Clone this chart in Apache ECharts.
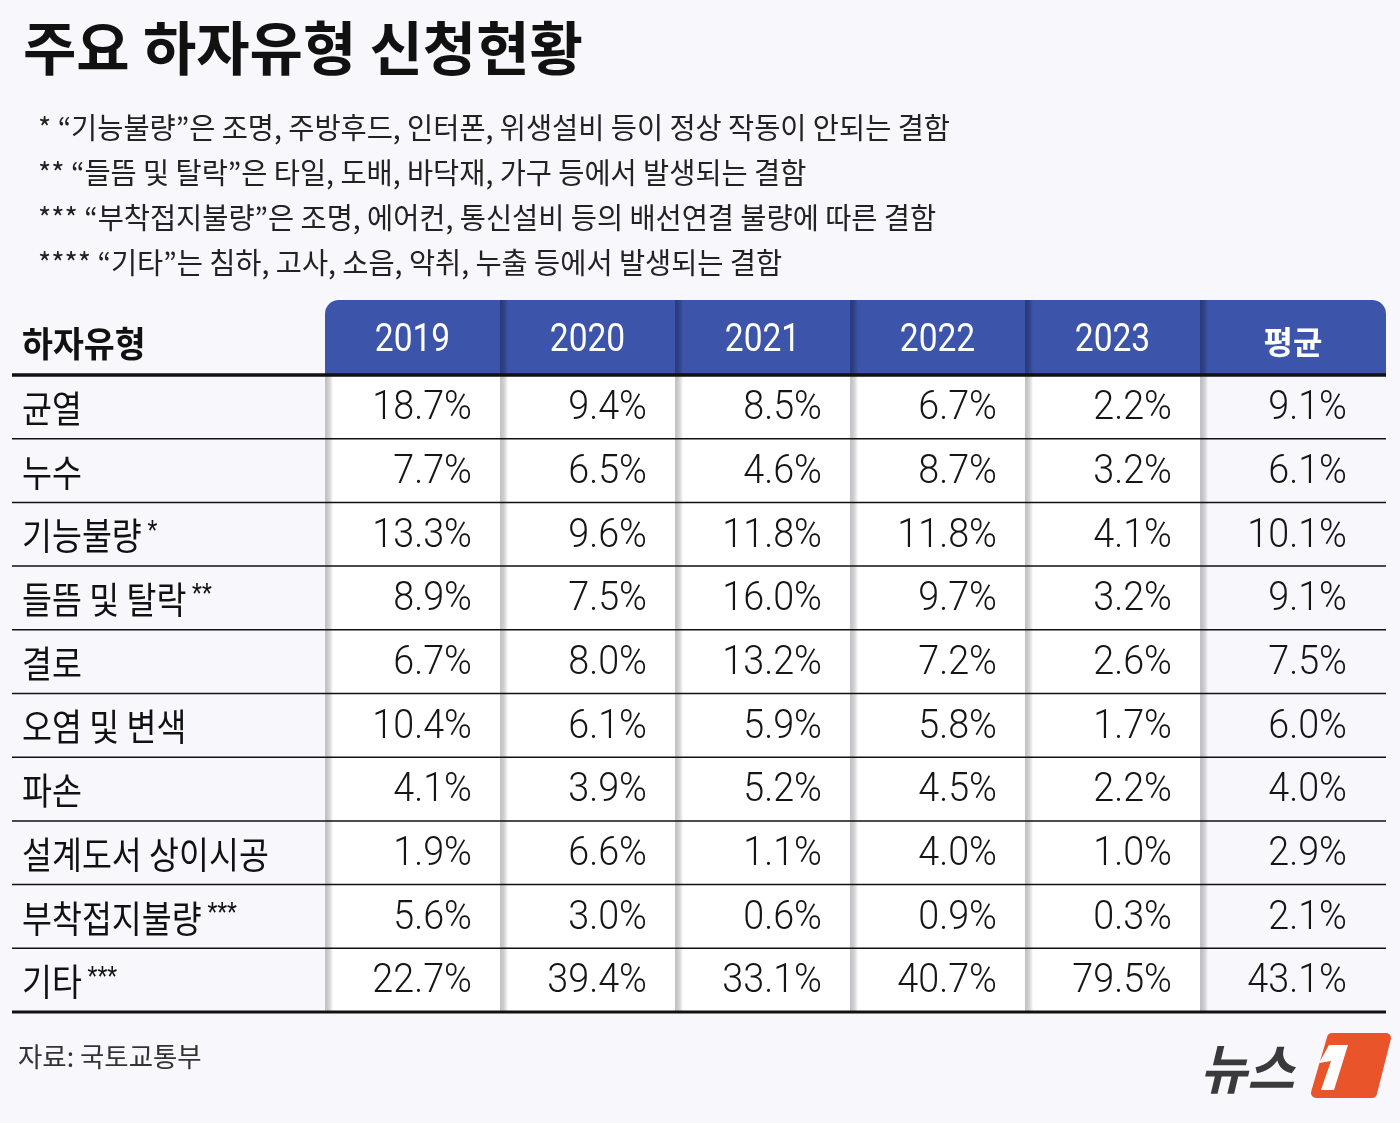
<!DOCTYPE html>
<html>
<head>
<meta charset="utf-8">
<script src="https://cdn.jsdelivr.net/npm/echarts@6/dist/echarts.min.js"></script>
<style>
html,body{margin:0;padding:0;background:#f8f8fc;}
#chart{width:1400px;height:1123px;}
</style>
</head>
<body>
<div id="chart"></div>
<script>
// ---- data ----
const title = '주요 하자유형 신청현황';
const notes = [
  '* “기능불량”은 조명, 주방후드, 인터폰, 위생설비 등이 정상 작동이 안되는 결함',
  '** “들뜸 및 탈락”은 타일, 도배, 바닥재, 가구 등에서 발생되는 결함',
  '*** “부착접지불량”은 조명, 에어컨, 통신설비 등의 배선연결 불량에 따른 결함',
  '**** “기타”는 침하, 고사, 소음, 악취, 누출 등에서 발생되는 결함'
];
const firstHeader = '하자유형';
const columns = ['2019', '2020', '2021', '2022', '2023', '평균'];
const categories = ['균열', '누수', '기능불량*', '들뜸 및 탈락**', '결로', '오염 및 변색', '파손', '설계도서 상이시공', '부착접지불량***', '기타***'];
const v2019 = [18.7, 7.7, 13.3, 8.9, 6.7, 10.4, 4.1, 1.9, 5.6, 22.7];
const v2020 = [9.4, 6.5, 9.6, 7.5, 8.0, 6.1, 3.9, 6.6, 3.0, 39.4];
const v2021 = [8.5, 4.6, 11.8, 16.0, 13.2, 5.9, 5.2, 1.1, 0.6, 33.1];
const v2022 = [6.7, 8.7, 11.8, 9.7, 7.2, 5.8, 4.5, 4.0, 0.9, 40.7];
const v2023 = [2.2, 3.2, 4.1, 3.2, 2.6, 1.7, 2.2, 1.0, 0.3, 79.5];
const vAvg  = [9.1, 6.1, 10.1, 9.1, 7.5, 6.0, 4.0, 2.9, 2.1, 43.1];
const source = '자료: 국토교통부';

// ---- build ----
const seriesCols = [v2019, v2020, v2021, v2022, v2023, vAvg];
const cellData = [];
seriesCols.forEach((arr, c) => arr.forEach((v, r) => cellData.push([c, r, v])));
const rowIdx = categories.map((_, i) => i);
const colIdx = columns.map((_, i) => i);

const KR = "'Noto Sans CJK KR','Noto Sans',sans-serif";
const NUM = "Roboto,'Noto Sans',sans-serif";
const TABLE_LEFT = 12, TABLE_RIGHT = 1386, LABEL_X = 22;

function shadow(x, y, h, c0) {
  return {
    type: 'rect', shape: {x: x, y: y, width: 8, height: h},
    style: {fill: new echarts.graphic.LinearGradient(0, 0, 1, 0, [
      {offset: 0, color: c0}, {offset: 1, color: 'rgba(0,0,0,0)'}
    ])}
  };
}

function renderHead(params, api) {
  const c = api.value(0);
  const p = api.coord([c, 0]);
  const s = api.size([1, 1]);
  const x0 = p[0] - s[0] / 2, y0 = p[1] - s[1] / 2;
  const last = c === columns.length - 1;
  const w = last ? TABLE_RIGHT - x0 : s[0];
  const r = c === 0 ? [14, 0, 0, 0] : (last ? [0, 14, 0, 0] : 0);
  const kids = [
    {type: 'rect', shape: {x: x0, y: y0, width: w, height: s[1], r: r}, style: {fill: '#3c55aa'}}
  ];
  if (c > 0) kids.push(shadow(x0, y0, s[1], 'rgba(25,35,90,0.55)'));
  const isNum = /^\d+$/.test(columns[c]);
  kids.push({
    type: 'text', x: x0 + w / 2, y: p[1] + 4, scaleX: isNum ? 0.86 : 1.0,
    style: {
      text: columns[c], x: 0, y: 0,
      align: 'center', verticalAlign: 'middle', fill: '#fff',
      font: isNum ? ('39px ' + NUM) : ('bold 32px ' + KR)
    }
  });
  return {type: 'group', children: kids};
}

function renderCell(params, api) {
  const c = api.value(0), r = api.value(1), v = api.value(2);
  const p = api.coord([c, r]);
  const s = api.size([1, 1]);
  const x0 = p[0] - s[0] / 2, y0 = p[1] - s[1] / 2;
  const kids = [];
  if (c < columns.length - 1) {
    kids.push({type: 'rect', shape: {x: x0, y: y0, width: s[0], height: s[1]}, style: {fill: '#ffffff'}});
  }
  kids.push(shadow(x0, y0, s[1], 'rgba(120,120,130,0.45)'));
  kids.push({
    type: 'text', x: x0 + s[0] - 28, y: p[1] + 2, scaleX: 0.92,
    style: {
      text: v.toFixed(1) + '%', x: 0, y: 0,
      align: 'right', verticalAlign: 'middle', fill: '#151515',
      font: '300 41px ' + NUM
    }
  });
  return {type: 'group', children: kids};
}

function renderRow(params, api) {
  const r = api.value(0);
  const p = api.coord([0, r]);
  const s = api.size([1, 1]);
  const y = p[1] + s[1] / 2;
  const last = r === categories.length - 1;
  const name = categories[r];
  const m = name.match(/^(.*?)(\*+)$/);
  const txt = m ? '{a|' + m[1] + '}{s| ' + m[2] + '}' : '{a|' + name + '}';
  return {
    type: 'group',
    children: [
      {
        type: 'line',
        shape: {x1: TABLE_LEFT, y1: y, x2: TABLE_RIGHT, y2: y},
        style: {stroke: '#111', lineWidth: last ? 3 : 1.5}
      },
      {
        type: 'text', x: LABEL_X, y: p[1] + 2, scaleX: 0.88,
        style: {
          text: txt, x: 0, y: 0, align: 'left', verticalAlign: 'middle',
          rich: {
            a: {font: '37px ' + KR, fill: '#111'},
            s: {font: '26px ' + NUM, fill: '#111', padding: [0, 0, 8, 0]}
          }
        }
      }
    ]
  };
}

function renderHeadRule(params, api) {
  const p = api.coord([0, 0]);
  const s = api.size([1, 1]);
  const y = p[1] + s[1] / 2;
  return {
    type: 'group',
    children: [
      {
        type: 'line',
        shape: {x1: TABLE_LEFT, y1: y, x2: TABLE_RIGHT, y2: y},
        style: {stroke: '#111', lineWidth: 3.5}
      },
      {
        type: 'text', x: LABEL_X, y: p[1] + 6, scaleX: 0.96,
        style: {text: firstHeader, x: 0, y: 0, align: 'left', verticalAlign: 'middle', font: 'bold 35px ' + KR, fill: '#111'}
      }
    ]
  };
}

const chart = echarts.init(document.getElementById('chart'), null, {renderer: 'canvas'});
const option = {
  backgroundColor: '#f8f8fc',
  animation: false,
  title: {
    text: title, left: 18, top: 14,
    textStyle: {fontFamily: KR, fontSize: 58, fontWeight: 'bold', color: '#111'}
  },
  graphic: [
    ...notes.map((t, i) => ({
      type: 'text', x: 38, y: 128 + i * 45, scaleX: 0.98,
      style: {text: t, x: 0, y: 0, verticalAlign: 'middle', font: '29px ' + KR, fill: '#222'}
    })),
    {type: 'text', x: 18, y: 1057, scaleX: 0.98, style: {text: source, x: 0, y: 0, verticalAlign: 'middle', font: '27px ' + KR, fill: '#333'}},
    // logo
    {type: 'text', x: 1200, y: 1068, scaleX: 0.95, style: {text: '뉴스', x: 0, y: 0, verticalAlign: 'middle', font: 'italic bold 54px ' + KR, fill: '#3a3a3a'}},
    {type: 'polygon', shape: {points: [[1332, 1038], [1386, 1038], [1372, 1093], [1316, 1093]]}, style: {fill: '#e9542a', stroke: '#e9542a', lineWidth: 10, lineJoin: 'round'}},
    {type: 'polygon', shape: {points: [[1329, 1045], [1348, 1045], [1334, 1090], [1321, 1090], [1331, 1061], [1319, 1063]]}, style: {fill: '#ffffff'}}
  ],
  grid: [
    {left: 325, top: 300, width: 1050, height: 75},
    {left: 325, top: 375, width: 1050, height: 637}
  ],
  xAxis: [
    {type: 'category', gridIndex: 0, data: columns, show: false},
    {type: 'category', gridIndex: 1, data: columns, show: false}
  ],
  yAxis: [
    {type: 'category', gridIndex: 0, data: [firstHeader], show: false},
    {type: 'category', gridIndex: 1, data: categories, inverse: true, show: false}
  ],
  series: [
    {type: 'custom', xAxisIndex: 0, yAxisIndex: 0, renderItem: renderHead, data: colIdx.map(i => [i]), clip: false, z: 2},
    {type: 'custom', xAxisIndex: 0, yAxisIndex: 0, renderItem: renderHeadRule, data: [[0]], clip: false, z: 5},
    {type: 'custom', xAxisIndex: 1, yAxisIndex: 1, renderItem: renderCell, data: cellData, clip: false, z: 2,
      encode: {x: 0, y: 1}},
    {type: 'custom', xAxisIndex: 1, yAxisIndex: 1, renderItem: renderRow, data: rowIdx.map(i => [i]), clip: false, z: 5,
      encode: {y: 0}}
  ]
};
chart.setOption(option);
</script>
</body>
</html>
